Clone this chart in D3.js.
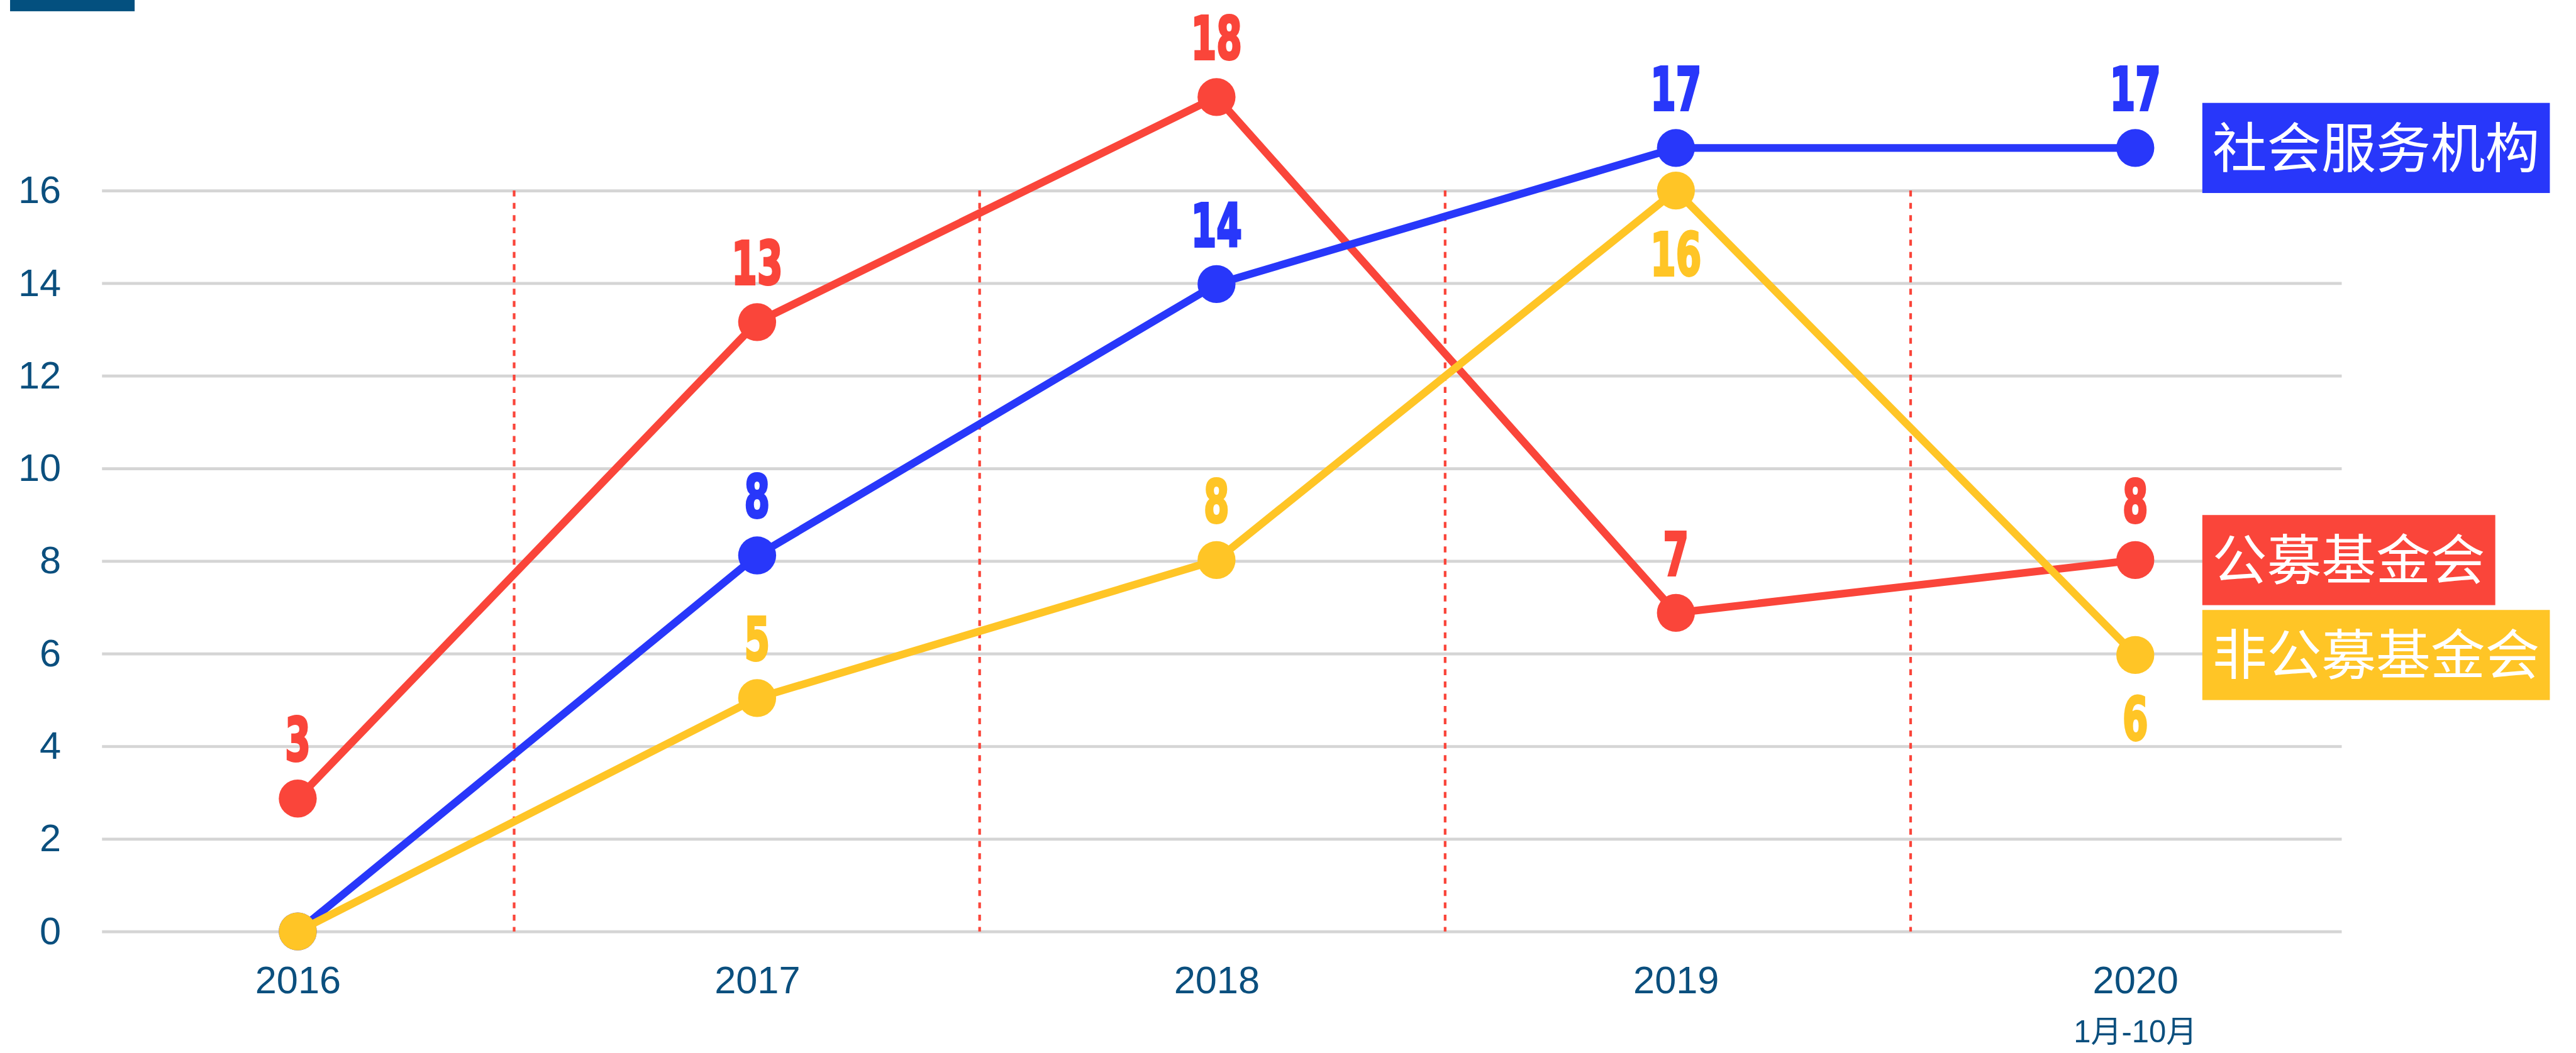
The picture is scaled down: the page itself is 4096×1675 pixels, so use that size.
<!DOCTYPE html>
<html>
<head>
<meta charset="utf-8">
<script src="https://cdn.jsdelivr.net/npm/d3@7"></script>
<style>
  body { margin: 0; background: #fff; }
  svg { display: block; }
</style>
</head>
<body>
<div id="chart"></div>
<script>
// values (markers sit slightly off the integers in the original)
const years = ["2016", "2017", "2018", "2019", "2020"]
const yearNotes = ["", "", "", "", "1月-10月"]
const yTicks = [0, 2, 4, 6, 8, 10, 12, 14, 16]

const seriesNames = ["公募基金会", "社会服务机构", "非公募基金会"]
const publicFoundation = [2.87, 13.16, 18.02, 6.88, 8.02]
const socialService = [0, 8.12, 13.98, 16.92, 16.92]
const privateFoundation = [0, 5.04, 8.02, 16.0, 5.97]

const publicLabels = [3, 13, 18, 7, 8]
const socialLabels = [null, 8, 14, 17, 17]
const privateLabels = [null, 5, 8, 16, 6]

const colours = ["#fa453a", "#2837fa", "#ffc526"]
const textBlue = "#0b4f7e"

// drawn in the reference's own pixel space, then shrunk by the viewBox
const W = 4343, H = 1776
const svg = d3.select("#chart")
  .append("svg")
    .attr("width", 4096)
    .attr("height", 1675)
    .attr("viewBox", `0 0 ${W} ${H}`)

const gridLeft = 172, gridRight = 3948

const x = d3.scalePoint()
  .domain(years)
  .range([502, 3600])

// the year separators are spaced a bit wider than the points
const sep = d3.scaleBand()
  .domain(years)
  .range([82, 4006])

const y = d3.scaleLinear()
  .domain([0, 16])
  .range([1571, 321.4])

// little dark tab in the top-left corner
svg.append("rect")
  .attr("x", 17).attr("y", 0)
  .attr("width", 210).attr("height", 19)
  .attr("fill", "#03507f")

// grid + y labels
const yAxis = svg.append("g")
  .attr("transform", `translate(${gridLeft},0)`)
  .call(d3.axisLeft(y)
    .tickValues(yTicks)
    .tickSize(-(gridRight - gridLeft))
    .tickPadding(69))
yAxis.select(".domain").remove()
yAxis.selectAll("line")
  .attr("stroke", "#d5d5d5")
  .attr("stroke-width", 5)
yAxis.selectAll("text")
  .attr("fill", textBlue)
  .attr("font-size", 65)
  .attr("font-family", "'Liberation Sans', Arial, sans-serif")

// x labels
const xAxis = svg.append("g")
  .attr("transform", `translate(0,${y(0)})`)
  .call(d3.axisBottom(x).tickSize(0).tickPadding(58))
xAxis.select(".domain").remove()
xAxis.selectAll("text")
  .attr("fill", textBlue)
  .attr("font-size", 65)
  .attr("font-family", "'Liberation Sans', Arial, sans-serif")

svg.append("g")
  .selectAll("text")
  .data(years.filter((d, i) => yearNotes[i]))
  .join("text")
    .attr("x", d => x(d))
    .attr("y", 1758)
    .attr("text-anchor", "middle")
    .attr("fill", textBlue)
    .attr("font-size", 52)
    .attr("font-family", "'Liberation Sans', 'Noto Sans CJK SC', sans-serif")
    .text(d => yearNotes[years.indexOf(d)])

// red dashed separators between the years
svg.append("g")
  .selectAll("line")
  .data(years.slice(1))
  .join("line")
    .attr("x1", d => sep(d))
    .attr("x2", d => sep(d))
    .attr("y1", y(16))
    .attr("y2", y(0))
    .attr("stroke", colours[0])
    .attr("stroke-width", 4.5)
    .attr("stroke-dasharray", "10,10.7")

const allSeries = [publicFoundation, socialService, privateFoundation]
const allLabels = [publicLabels, socialLabels, privateLabels]

const line = d3.line()
  .x((d, i) => x(years[i]))
  .y(d => y(d))

allSeries.forEach((values, s) => {
  const g = svg.append("g")
  g.append("path")
    .attr("d", line(values))
    .attr("fill", "none")
    .attr("stroke", colours[s])
    .attr("stroke-width", 13)
    .attr("stroke-linejoin", "round")
  g.selectAll("circle")
    .data(values)
    .join("circle")
      .attr("cx", (d, i) => x(years[i]))
      .attr("cy", d => y(d))
      .attr("r", 32)
      .attr("fill", colours[s])
})

// value labels: go under the point when another series sits just above it
allSeries.forEach((values, s) => {
  svg.append("g")
    .selectAll("text")
    .data(values.map((v, i) => ({v, i, label: allLabels[s][i]})).filter(d => d.label !== null))
    .join("text")
      .attr("x", d => x(years[d.i]))
      .attr("y", d => {
        const crowded = allSeries.some((other, o) => o !== s && other[d.i] > d.v && other[d.i] - d.v < 2.5)
        return crowded ? y(d.v) + 143 : y(d.v) - 64
      })
      .attr("text-anchor", "middle")
      .attr("fill", colours[s])
      .attr("stroke", colours[s])
      .attr("stroke-width", 4)
      .attr("font-size", 100)
      .attr("font-weight", "bold")
      .attr("font-family", "'Liberation Sans Narrow', 'DejaVu Sans Condensed', sans-serif")
      .attr("textLength", d => String(d.label).length * 43)
      .attr("lengthAdjust", "spacingAndGlyphs")
      .text(d => d.label)
})

// legend tags pinned to the last point of each series
const legendX = 3713, padX = 17, boxH = 152
allSeries.forEach((values, s) => {
  const cy = y(values[values.length - 1])
  const tag = svg.append("g")
  const rect = tag.append("rect")
    .attr("x", legendX)
    .attr("y", cy - boxH / 2)
    .attr("height", boxH)
    .attr("fill", colours[s])
  const txt = tag.append("text")
    .attr("x", legendX + padX)
    .attr("y", cy)
    .attr("dy", "0.36em")
    .attr("fill", "#fff")
    .attr("font-size", 92)
    .attr("font-family", "'Noto Sans CJK SC', sans-serif")
    .text(seriesNames[s])
  rect.attr("width", txt.node().getComputedTextLength() + padX * 2)
})
</script>
</body>
</html>
